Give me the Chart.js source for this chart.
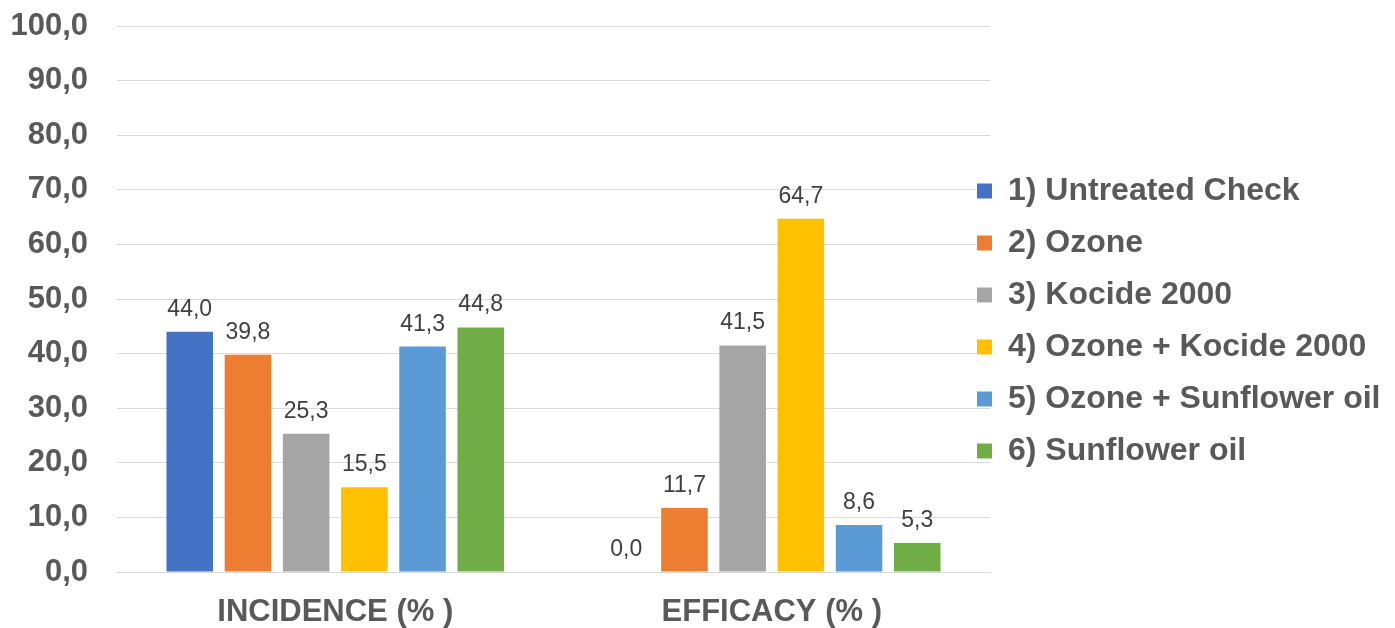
<!DOCTYPE html>
<html>
<head>
<meta charset="utf-8">
<script src="https://cdn.jsdelivr.net/npm/chart.js@4"></script>
<style>
  html, body { margin: 0; padding: 0; background: #fff; }
  #grafico { display: block; }
</style>
</head>
<body>
<canvas id="grafico" width="1395" height="628"></canvas>
<script>
// dados do gráfico
const categorias = ["INCIDENCE (% )", "EFFICACY (% )"];
const tratamentos = [
  "1) Untreated Check",
  "2) Ozone",
  "3) Kocide 2000",
  "4) Ozone + Kocide 2000",
  "5) Ozone + Sunflower oil",
  "6) Sunflower oil"
];
const untreated = [44.0, 0.0];
const ozone = [39.8, 11.7];
const kocide = [25.3, 41.5];
const ozoneKocide = [15.5, 64.7];
const ozoneOil = [41.3, 8.6];
const sunflowerOil = [44.8, 5.3];
const cores = ["#4472C4", "#ED7D31", "#A5A5A5", "#FFC000", "#5B9BD5", "#70AD47"];

const series = [untreated, ozone, kocide, ozoneKocide, ozoneOil, sunflowerOil];

const fmt = v => v.toFixed(1).replace(".", ",");
const fonte = "'Liberation Sans', Arial, sans-serif";

// rótulos em cima das barras
const rotulos = {
  id: "rotulos",
  afterDatasetsDraw(chart) {
    const ctx = chart.ctx;
    ctx.save();
    ctx.font = "23px " + fonte;
    ctx.fillStyle = "#404040";
    ctx.textAlign = "center";
    ctx.textBaseline = "alphabetic";
    chart.data.datasets.forEach((ds, i) => {
      chart.getDatasetMeta(i).data.forEach((bar, j) => {
        ctx.fillText(fmt(ds.data[j]), bar.x, bar.y - 16);
      });
    });
    ctx.restore();
  }
};

// aproxima a legenda da área do gráfico
const ajusteLegenda = {
  id: "ajusteLegenda",
  afterLayout(chart) {
    const lg = chart.legend;
    lg.left = chart.chartArea.right - 33;
    lg.top -= 6;
    lg.bottom -= 6;
  }
};

new Chart(document.getElementById("grafico"), {
  type: "bar",
  data: {
    labels: categorias,
    datasets: series.map((valores, i) => ({
      label: tratamentos[i],
      data: valores,
      backgroundColor: cores[i],
      borderWidth: 0,
      categoryPercentage: 0.8,
      barPercentage: 0.8
    }))
  },
  options: {
    responsive: false,
    animation: false,
    devicePixelRatio: 1,
    layout: { padding: { left: 10, top: 26, right: 0, bottom: 0 } },
    scales: {
      x: {
        grid: { display: false, drawTicks: false },
        border: { display: true, color: "#d9d9d9", width: 1 },
        ticks: {
          padding: 22,
          color: "#595959",
          font: { family: fonte, size: 31, weight: "bold" }
        },
        afterFit: s => { s.height = 56; }
      },
      y: {
        min: 0,
        max: 100,
        grid: { color: "#d9d9d9", lineWidth: 1, drawTicks: false },
        border: { display: false },
        ticks: {
          stepSize: 10,
          padding: 29,
          color: "#595959",
          font: { family: fonte, size: 31, weight: "bold" },
          callback: v => fmt(v)
        },
        afterFit: s => {
          s.width = 107;
          s.paddingTop = 20;
          s.paddingBottom = 20;
        }
      }
    },
    plugins: {
      tooltip: { enabled: false },
      legend: {
        position: "right",
        maxWidth: 405,
        labels: {
          boxWidth: 15,
          boxHeight: 15,
          padding: 20,
          color: "#595959",
          font: { family: fonte, size: 32, weight: "bold" }
        }
      }
    }
  },
  plugins: [rotulos, ajusteLegenda]
});
</script>
</body>
</html>
